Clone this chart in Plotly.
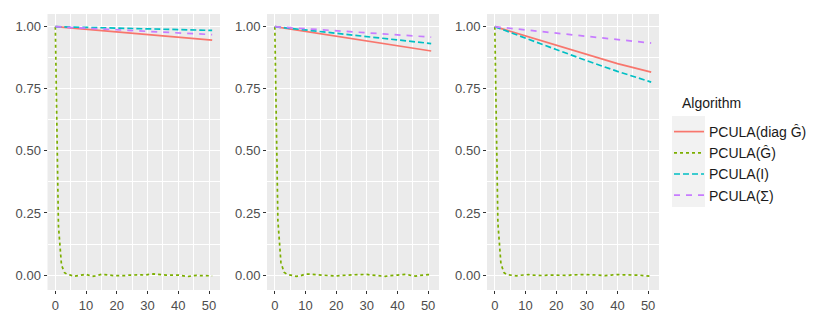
import plotly.graph_objects as go

# lag values for the noisy trace, coarse lags for the smooth decays
lag = list(range(52))
lag_coarse = [0, 10, 20, 30, 40, 51]

algorithms = ["PCULA(diag Ĝ)", "PCULA(Ĝ)", "PCULA(I)", "PCULA(Σ)"]

# panel 1
p1_diag = [1.0, 0.989, 0.978, 0.968, 0.957, 0.946]
p1_ghat = [1.0, 0.20, 0.04, 0.01, 0.002, 0.0, -0.005, -0.004, -0.001, 0.001, 0.003,
           0.0, -0.005, -0.003, 0.001, 0.003, 0.002, 0.0, -0.001, -0.002, -0.002,
           -0.003, -0.004, -0.002, 0.0, 0.001, 0.002, 0.003, 0.001, 0.0, 0.002,
           0.003, 0.005, 0.003, 0.001, 0.0, 0.0, 0.0, 0.001, 0.0, 0.0,
           -0.002, -0.005, -0.006, -0.004, -0.002, -0.001, -0.002, -0.002, -0.003, -0.003, -0.003]
p1_ident = [1.0, 0.997, 0.994, 0.991, 0.988, 0.985]
p1_sigma = [1.0, 0.994, 0.987, 0.981, 0.975, 0.968]

# panel 2
p2_diag = [1.0, 0.981, 0.962, 0.942, 0.922, 0.902]
p2_ghat = [1.0, 0.22, 0.05, 0.012, 0.003, 0.0, -0.004, -0.005, -0.004, 0.0, 0.004,
           0.004, 0.003, 0.004, 0.003, 0.001, 0.0, -0.002, -0.003, -0.004, -0.004,
           -0.002, -0.001, 0.0, 0.0, 0.0, 0.001, 0.002, 0.002, 0.003, 0.003,
           0.001, 0.0, -0.001, -0.003, -0.005, -0.005, -0.003, -0.001, 0.0, 0.0,
           0.001, 0.003, 0.003, 0.0, -0.003, -0.004, -0.002, 0.0, 0.001, 0.002, 0.002]
p2_ident = [1.0, 0.987, 0.973, 0.959, 0.946, 0.932]
p2_sigma = [1.0, 0.992, 0.983, 0.975, 0.967, 0.958]

# panel 3
p3_diag = [1.0, 0.962, 0.924, 0.887, 0.851, 0.817]
p3_ghat = [1.0, 0.21, 0.045, 0.01, 0.002, 0.0, -0.002, -0.003, -0.001, 0.001, 0.003,
           0.002, 0.0, -0.001, -0.002, -0.003, -0.002, 0.0, 0.0, -0.001, -0.002,
           -0.002, -0.003, -0.003, -0.001, 0.001, 0.002, 0.003, 0.002, 0.002, 0.002,
           0.002, 0.002, 0.002, 0.0, -0.001, -0.002, -0.002, 0.0, 0.002, 0.003,
           0.002, 0.001, 0.0, -0.001, -0.001, 0.0, 0.0, -0.002, -0.003, -0.005, -0.005]
p3_ident = [1.0, 0.953, 0.908, 0.863, 0.820, 0.777]
p3_sigma = [1.0, 0.987, 0.974, 0.961, 0.948, 0.934]

panels = [
    (p1_diag, p1_ghat, p1_ident, p1_sigma),
    (p2_diag, p2_ghat, p2_ident, p2_sigma),
    (p3_diag, p3_ghat, p3_ident, p3_sigma),
]

colors = ["#F8766D", "#7CAE00", "#00BFC4", "#C77CFF"]
dashes = ["solid", "3px,3px", "6px,3px", "6px,6px"]

# the page body adds 8px around the figure, so the figure is 8px smaller
PAD = 8
W, H = 830 - PAD, 323 - PAD


def px_x(v):
    return (v - PAD) / W


def px_y(v):
    return 1 - (v - PAD) / H


x_px = [(47.5, 220), (267, 439), (487, 659)]
y_dom = [px_y(290), px_y(14)]

fig = go.Figure()

for i, series in enumerate(panels):
    sfx = "" if i == 0 else str(i + 1)
    for j, vals in enumerate(series):
        xs = lag if j == 1 else lag_coarse
        fig.add_trace(go.Scatter(
            x=xs, y=vals, mode="lines",
            name=algorithms[j],
            showlegend=(i == 0),
            line=dict(color=colors[j], width=1.7, dash=dashes[j]),
            xaxis="x" + sfx, yaxis="y" + sfx,
        ))

axis_common = dict(
    showline=False, zeroline=False,
    gridcolor="white", gridwidth=1.2,
    ticks="outside", ticklen=3, tickwidth=1.1, tickcolor="#333333",
    tickfont=dict(size=13, color="#4D4D4D"),
    showticklabels=True,
)

layout = dict(
    width=W, height=H,
    margin=dict(l=0, r=0, t=0, b=0),
    paper_bgcolor="white",
    plot_bgcolor="#EBEBEB",
    font=dict(family="Liberation Sans, Arial, sans-serif", color="#1A1A1A"),
    showlegend=True,
    legend=dict(
        font=dict(size=14),
        x=px_x(669), y=px_y(116), xanchor="left", yanchor="top",
        bgcolor="rgba(0,0,0,0)",
        itemwidth=30,
    ),
    annotations=[dict(text="Algorithm", xref="paper", yref="paper",
                      x=px_x(680), y=px_y(103), xanchor="left", yanchor="middle",
                      showarrow=False, font=dict(size=14))],
    # grey key background behind the legend symbols
    shapes=[dict(type="rect", xref="paper", yref="paper",
                 x0=px_x(672), x1=px_x(705), y0=px_y(207), y1=px_y(116),
                 fillcolor="#F2F2F2", line=dict(width=0), layer="below")],
)

for i, (a, b) in enumerate(x_px):
    sfx = "" if i == 0 else str(i + 1)
    layout["xaxis" + sfx] = dict(
        axis_common,
        domain=[px_x(a), px_x(b)], anchor="y" + sfx,
        range=[-2.55, 53.55], tickvals=[0, 10, 20, 30, 40, 50],
        minor=dict(tick0=5, dtick=10, gridcolor="white", gridwidth=0.6, ticks=""),
    )
    layout["yaxis" + sfx] = dict(
        axis_common,
        domain=list(y_dom), anchor="x" + sfx,
        range=[-0.06, 1.051], tickvals=[0, 0.25, 0.5, 0.75, 1.0],
        ticktext=["0.00", "0.25", "0.50", "0.75", "1.00"],
        minor=dict(tick0=0.125, dtick=0.25, gridcolor="white", gridwidth=0.6, ticks=""),
    )

fig.update_layout(**layout)

fig.write_html("out.html")
